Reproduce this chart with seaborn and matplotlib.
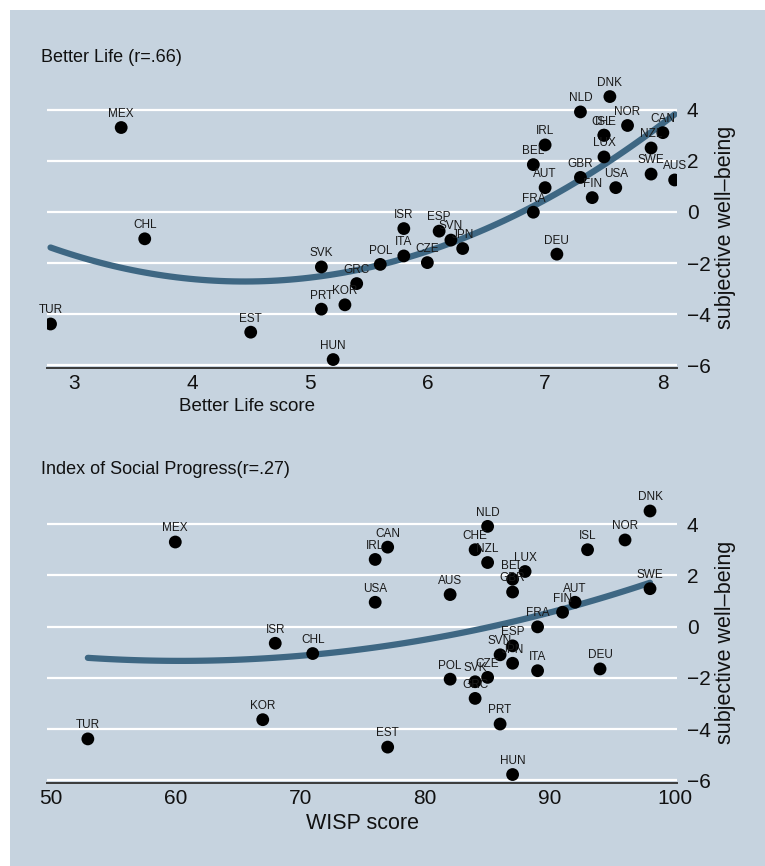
import numpy as np
import pandas as pd
import matplotlib
matplotlib.use("Agg")
import matplotlib.pyplot as plt
import seaborn as sns
from matplotlib.patches import Rectangle

# Country codes and values
countries = ["MEX", "CHL", "TUR", "EST", "SVK", "GRC", "PRT", "KOR", "HUN", "POL",
             "ISR", "ESP", "SVN", "JPN", "ITA", "CZE", "FRA", "DEU", "AUT", "BEL",
             "IRL", "GBR", "FIN", "USA", "LUX", "CHE", "ISL", "NOR", "NLD", "DNK",
             "CAN", "NZL", "SWE", "AUS"]
swb = [3.30, -1.05, -4.38, -4.70, -2.15, -2.80, -3.80, -3.63, -5.77, -2.05,
       -0.65, -0.75, -1.10, -1.43, -1.72, -1.98, -0.01, -1.65, 0.95, 1.85,
       2.62, 1.35, 0.56, 0.95, 2.15, 3.00, 3.00, 3.38, 3.91, 4.51,
       3.10, 2.50, 1.48, 1.25]
better_life = [3.4, 3.6, 2.8, 4.5, 5.1, 5.4, 5.1, 5.3, 5.2, 5.6,
               5.8, 6.1, 6.2, 6.3, 5.8, 6.0, 6.9, 7.1, 7.0, 6.9,
               7.0, 7.3, 7.4, 7.6, 7.5, 7.5, 7.5, 7.7, 7.3, 7.55,
               8.0, 7.9, 7.9, 8.1]
wisp = [60, 71, 53, 77, 84, 84, 86, 67, 87, 82,
        68, 87, 86, 87, 89, 85, 89, 94, 92, 87,
        76, 87, 91, 76, 88, 84, 93, 96, 85, 98,
        77, 85, 98, 82]

df = pd.DataFrame({"country": countries, "swb": swb,
                   "better_life": better_life, "wisp": wisp})

bg = "#c6d3df"
line_col = "#3e6783"

sns.set_style("white")
plt.rcParams["font.family"] = ["Liberation Sans", "DejaVu Sans"]

W, H = 765, 866
fig = plt.figure(figsize=(W / 100, H / 100), dpi=100)
fig.patch.set_facecolor("white")
fig.patches.append(Rectangle((10 / W, 0), 755 / W, 856 / H, transform=fig.transFigure,
                             facecolor=bg, edgecolor="none", zorder=-5))


def panel(rect, xcol, xlim, xticks, xlabel, xlabel_pos, xlabel_size, title, title_y):
    ax = fig.add_axes(rect)
    ax.set_zorder(2)
    ax.patch.set_alpha(0)
    sns.regplot(data=df, x=xcol, y="swb", order=2, ci=None, scatter=False, ax=ax,
                line_kws={"color": line_col, "lw": 4.5, "solid_capstyle": "round", "zorder": 2})
    sns.scatterplot(data=df, x=xcol, y="swb", ax=ax, color="black", s=85,
                    edgecolor="none", zorder=3)
    for _, r in df.iterrows():
        ax.annotate(r["country"], (r[xcol], r["swb"]), xytext=(0, 5.5),
                    textcoords="offset points", ha="center", va="bottom",
                    fontsize=8.5, color="#1a1a1a", zorder=4)
    ax.set_xlim(*xlim)
    ax.set_ylim(-6.1, 4.9)
    ax.set_yticks([-6, -4, -2, 0, 2, 4])
    ax.set_yticklabels(["\u22126", "\u22124", "\u22122", "0", "2", "4"])
    ax.set_xticks(xticks)
    ax.yaxis.tick_right()
    ax.yaxis.set_label_position("right")
    ax.grid(axis="y", color="white", lw=1.6, zorder=1)
    ax.set_axisbelow(True)
    for s in ["top", "left", "right"]:
        ax.spines[s].set_visible(False)
    ax.spines["bottom"].set_color("#3a3a3a")
    ax.spines["bottom"].set_linewidth(1.4)
    ax.tick_params(axis="x", direction="in", length=5, width=1, color="#3a3a3a",
                   labelsize=15, pad=4, labelcolor="#111111")
    ax.tick_params(axis="y", length=0, labelsize=15, pad=7, labelcolor="#111111")
    ax.set_xlabel(xlabel, fontsize=xlabel_size, color="#111111")
    ax.xaxis.set_label_coords(xlabel_pos, -0.105)
    ax.set_ylabel("subjective well\u2013being", fontsize=15.5, color="#111111", labelpad=3)
    fig.text(41 / W, 1 - title_y / H, title, fontsize=13, ha="left", va="center",
             color="#111111")
    return ax


panel([47 / W, 1 - 368 / H, 630 / W, 281.4 / H], "better_life", (2.77, 8.12),
      [3, 4, 5, 6, 7, 8], "Better Life score", 0.317, 13.5, "Better Life (r=.66)", 57)
panel([47 / W, 1 - 783 / H, 630 / W, 282 / H], "wisp", (49.73, 100.16),
      [50, 60, 70, 80, 90, 100], "WISP score", 0.5, 15.5,
      "Index of Social Progress(r=.27)", 470)

plt.savefig("out.png", dpi=100, facecolor=fig.get_facecolor())
